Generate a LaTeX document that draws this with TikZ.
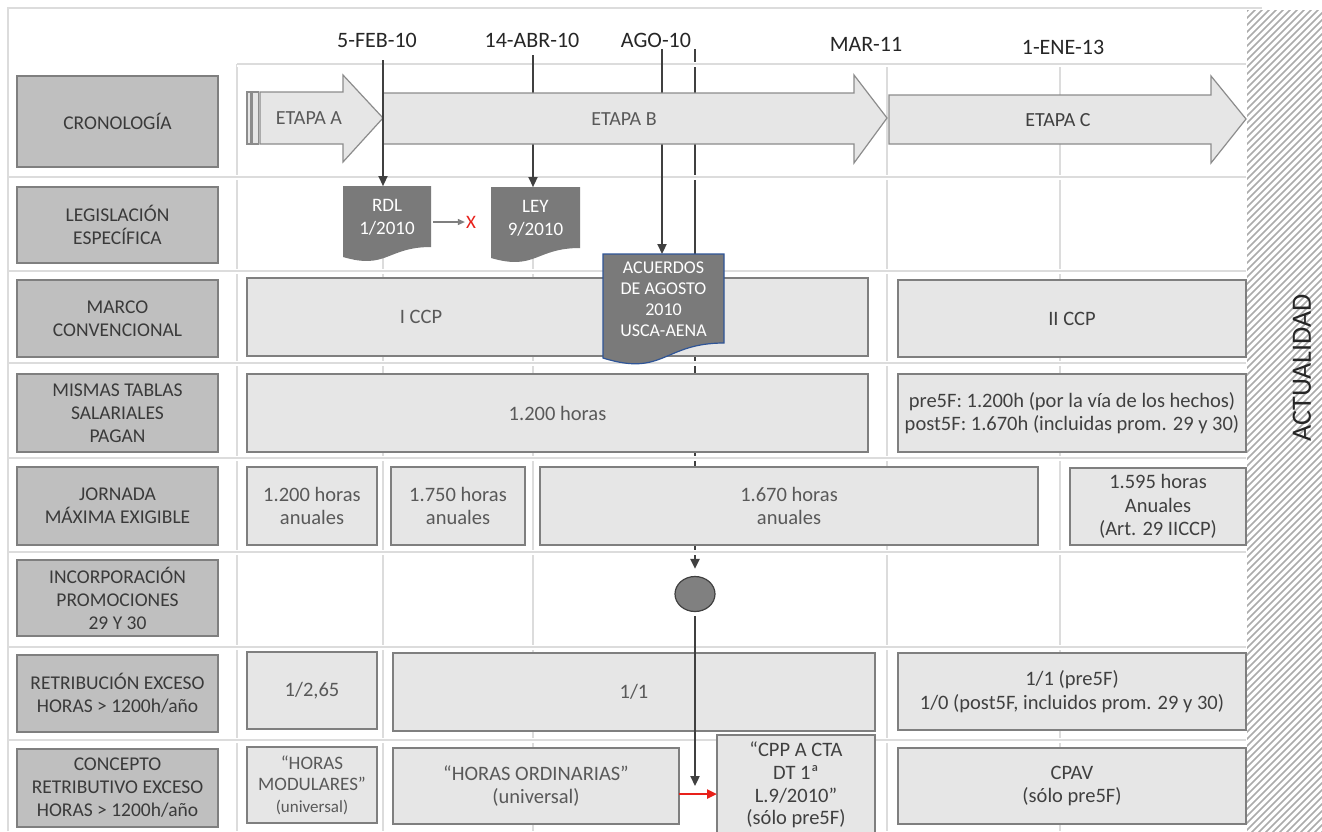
\documentclass[tikz,border=0pt]{standalone}
\usepackage{fontspec}
\setmainfont{Carlito}
\usetikzlibrary{arrows.meta,calc,shapes.geometric}
\pgfdeclarelayer{under}
\pgfdeclarelayer{bg}
\pgfdeclarelayer{lines}
\pgfsetlayers{under,bg,lines,main}
\definecolor{labfill}{HTML}{BFBFBF}
\definecolor{boxfill}{HTML}{E6E6E6}
\definecolor{bord}{HTML}{7F7F7F}
\definecolor{arrb}{HTML}{8C8C8C}
\definecolor{darkl}{HTML}{404040}
\definecolor{txtd}{HTML}{3A3A3A}
\definecolor{txtc}{HTML}{595959}
\definecolor{gridc}{HTML}{DCDCDC}
\definecolor{docfill}{HTML}{7A7A7A}
\definecolor{docblue}{HTML}{2F5597}
\definecolor{hatchc}{HTML}{ABABAB}
\definecolor{redc}{HTML}{E8201A}
\definecolor{ellfill}{HTML}{808080}
\definecolor{toptxt}{HTML}{262626}
\newcommand\fsz[2]{\fontsize{#1}{#2}\selectfont}
\newcommand\bx[7]{\node[#1,anchor=north west,minimum width={(#4-#2)*1pt},minimum height={(#5-#3)*1pt}] (#6) at (#2,#3) {#7};}
\begin{document}
\begin{tikzpicture}[x=1pt,y=-1pt,
  lab/.style={draw=bord,fill=labfill,line width=1.4pt,inner sep=0pt,outer sep=0pt,align=center,text=txtd,font=\fsz{19.5}{23}},
  cbox/.style={draw=bord,fill=boxfill,line width=1.4pt,inner sep=0pt,outer sep=0pt,align=center,text=txtc,font=\fsz{20.5}{23.5}},
  rbox/.style={cbox,text=darkl},
  datel/.style={font=\fsz{22}{25},text=toptxt,inner sep=1pt},
  darkline/.style={draw=darkl,line width=2.2pt},
  tip/.style={-{Triangle[length=10pt,width=9pt]}},
  arrowst/.style={draw=arrb,fill=boxfill,line width=1.2pt},
  etxt/.style={font=\fsz{20}{23},text=txtc},
  doctext/.style={inner sep=0pt,outer sep=0pt,align=center,text=white,font=\fsz{19}{23},anchor=north west},
  gridv/.style={draw=gridc,line width=1.2pt},
  gridh/.style={draw=gridc,line width=2.6pt}
]
\begin{pgfonlayer}{under}
\fill[white] (0,0) rectangle (1322,831);
\end{pgfonlayer}
\useasboundingbox (0,0) rectangle (1322,831);

% top date labels
\node[datel] (dfeb) at (377,40) {5-FEB-10};
\node[datel] (dabr) at (532,40) {14-ABR-10};
\node[datel] (dago) at (656,40) {AGO-10};
\node[datel] (dmar) at (866,44) {MAR-11};
\node[datel] (dene) at (1063,47) {1-ENE-13};

% ellipse
\node[ellipse,draw=darkl,fill=ellfill,line width=1.2pt,minimum width=40pt,minimum height=35pt,inner sep=0pt] (ell) at (695,594) {};

\coordinate (febtop) at (383,60);
\coordinate (abrtop) at (533,55);
\coordinate (agotop) at (662,49);
\coordinate (a2top) at (695,49);
\coordinate (lowend) at (695,786);

\begin{pgfonlayer}{under}
\draw[darkline,tip,shorten >=7pt] (a2top) -- (ell.north);
\end{pgfonlayer}

% grid, border, hatch
\begin{pgfonlayer}{bg}
\foreach \x in {237,383,533,887,1060} \draw[gridv] (\x,64) -- (\x,831);
\foreach \y in {177,271,363,458,552,647,740} {
  \draw[white,line width=5pt] (8,\y) -- (1246,\y);
  \draw[gridh] (8,\y) -- (1246,\y);}
\draw[white,line width=5pt] (237,64) -- (1246,64);
\draw[gridh] (237,64) -- (1246,64);
\draw[gridc,line width=2pt] (8,831) -- (8,8) -- (1262,8);
\begin{scope}
\clip (1247,10) rectangle (1322,831);
\foreach \i in {-120,-113,...,860} \draw[hatchc,line width=1.6pt] (1240,{\i+110}) -- (1330,{\i+20});
\end{scope}
\end{pgfonlayer}

\node[rotate=90,font=\fsz{28}{30},text=toptxt] (act) at (1302,368) {ACTUALIDAD};

% row labels
\bx{lab}{17}{76}{218}{167}{l1}{CRONOLOGÍA}
\bx{lab}{17}{187}{218}{263}{l2}{LEGISLACIÓN\\ESPECÍFICA}
\bx{lab}{17}{280}{218}{357}{l3}{MARCO\\CONVENCIONAL}
\bx{lab}{17}{374}{218}{452}{l4}{MISMAS TABLAS\\SALARIALES\\PAGAN}
\bx{lab}{17}{467}{218}{545}{l5}{JORNADA\\MÁXIMA EXIGIBLE}
\bx{lab}{17}{560}{218}{636}{l6}{INCORPORACIÓN\\PROMOCIONES\\29 Y 30}
\bx{lab}{17}{655}{218}{732}{l7}{RETRIBUCIÓN EXCESO\\HORAS > 1200h/año}
\bx{lab}{17}{749}{218}{827}{l8}{CONCEPTO\\RETRIBUTIVO EXCESO\\HORAS > 1200h/año}

% content boxes
\bx{cbox}{247}{278}{868}{356}{icc}{}
\node[etxt,font=\fsz{20.5}{23}] (icct) at (421,317) {I CCP};
\bx{rbox}{898}{280}{1246}{357}{iicc}{II CCP}
\bx{cbox}{247}{374}{868}{452}{h1200}{1.200 horas}
\bx{rbox}{898}{374}{1246}{452}{pre}{pre5F: 1.200h (por la vía de los hechos)\\post5F: 1.670h (incluidas prom. 29 y 30)}
\bx{cbox}{247}{467}{377}{545}{j1}{1.200 horas\\anuales}
\bx{cbox}{391}{467}{525}{545}{j2}{1.750 horas\\anuales}
\bx{cbox}{540}{467}{1038}{545}{j3}{1.670 horas\\anuales}
\bx{rbox}{1070}{468}{1246}{545}{j4}{1.595 horas\\Anuales\\(Art. 29 IICCP)}
\bx{cbox}{247}{652}{377}{729}{r1}{1/2,65}
\bx{cbox}{393}{653}{875}{731}{r2}{1/1}
\bx{rbox}{898}{653}{1246}{730}{r3}{1/1 (pre5F)\\1/0 (post5F, incluidos prom. 29 y 30)}
\bx{cbox,font=\fsz{19}{21.5}}{247}{747}{377}{823}{c1}{“HORAS\\MODULARES”\\{\fsz{17}{21.5}(universal)}}
\bx{cbox}{393}{748}{679}{824}{c2}{“HORAS ORDINARIAS”\\(universal)}
\bx{rbox,font=\fsz{20.5}{22.8}}{717}{735}{875}{835}{c3}{“CPP A CTA\\DT 1ª\\L.9/2010”\\(sólo pre5F)}
\bx{rbox}{898}{748}{1246}{824}{c4}{CPAV\\(sólo pre5F)}

% stage arrows
\draw[arrowst] (247,92) rectangle (251,144);
\draw[arrowst] (252.5,92) rectangle (258.5,144);
\draw[arrowst] (260,92) -- (343,92) -- (343,75) -- (383,118) -- (343,162) -- (343,144) -- (260,144) -- cycle;
\draw[arrowst] (383,93) -- (854,93) -- (854,75) -- (887,118) -- (854,163) -- (854,144) -- (383,144) -- cycle;
\draw[arrowst] (889,95) -- (1211,95) -- (1211,76) -- (1246,119) -- (1211,163) -- (1211,144) -- (889,144) -- cycle;
\node[etxt] (eta) at (309,118) {ETAPA A};
\node[etxt] (etb) at (624,119) {ETAPA B};
\node[etxt,text=darkl] (etc) at (1058,120) {ETAPA C};

% documents
\fill[docfill] (343,186) -- (431,186) -- (431,247) .. controls (387,247) and (387,270) .. (343,257) -- cycle;
\node[doctext,minimum width=88pt,minimum height=62pt] (rdl) at (343,186) {RDL\\1/2010};
\fill[docfill] (491,187) -- (580,187) -- (580,248) .. controls (535.5,248) and (535.5,271) .. (491,258) -- cycle;
\node[doctext,minimum width=89pt,minimum height=62pt] (ley) at (491,187) {LEY\\9/2010};
\filldraw[fill=docfill,draw=docblue,line width=1.2pt] (603,254) -- (724,254) -- (724,343) .. controls (663.5,343) and (663.5,377) .. (603,358) -- cycle;
\node[doctext,minimum width=121pt,minimum height=91pt,font=\fsz{18}{21}] (acu) at (603,254) {ACUERDOS\\DE AGOSTO\\2010\\USCA-AENA};

\node[text=redc,font=\fsz{19}{23},inner sep=1pt] (xm) at (471,222) {X};
\draw[bord,line width=1.1pt,-{Triangle[length=7pt,width=6pt]}] ([yshift=-5pt,xshift=2pt]rdl.east) -- (xm.west);

% date lines
\begin{pgfonlayer}{lines}
\draw[darkline,tip] (abrtop) -- (abrtop |- ley.north);
\draw[darkline,tip] (agotop) -- (agotop |- acu.north);
\end{pgfonlayer}
\draw[darkline,tip] (febtop) -- (febtop |- rdl.north);

% lower connectors
\draw[darkline,tip,shorten <=4pt] (ell.south) -- (lowend);
\draw[redc,line width=2.4pt,-{Triangle[length=10pt,width=9pt]}] ([yshift=-8pt]c2.east) -- ([yshift=-8pt]c2.east -| c3.west);
\end{tikzpicture}
\end{document}
